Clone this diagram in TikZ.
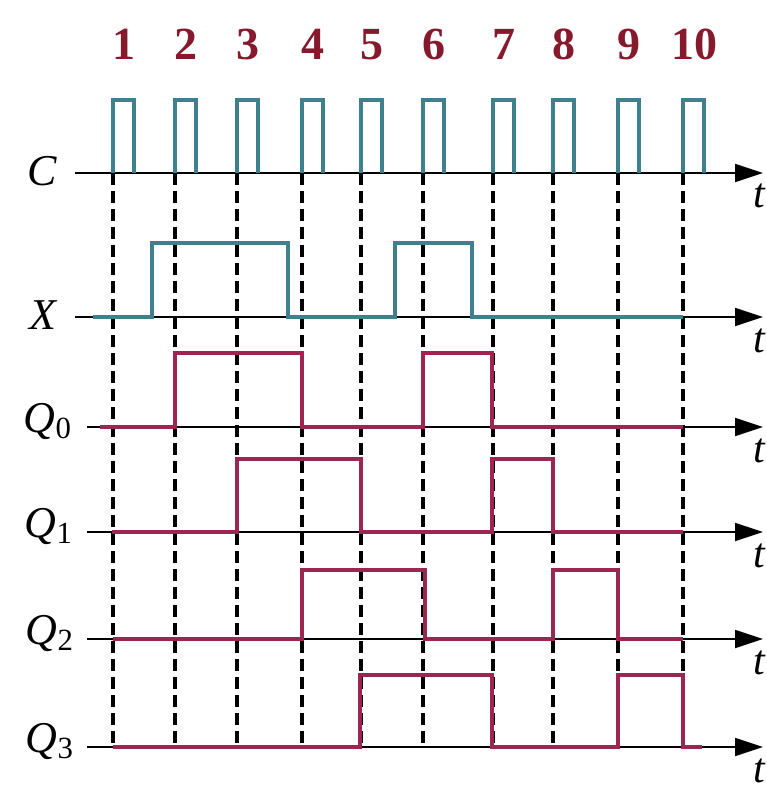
\documentclass[tikz,border=0pt]{standalone}
\usepackage{fontspec}
\setmainfont{Liberation Serif}
\usetikzlibrary{arrows.meta}
\definecolor{tdteal}{HTML}{3F808E}
\definecolor{tdwine}{HTML}{9C2552}
\definecolor{tdnum}{HTML}{861A2C}
\tikzset{
  axis/.style={line width=0.9pt,-{Triangle[length=14pt,width=9pt]}},
  clk/.style={draw=tdteal,line width=2.3pt},
  sigx/.style={draw=tdteal,line width=2.4pt},
  sigq/.style={draw=tdwine,line width=2.4pt},
  grid/.style={line width=1.6pt,dash pattern=on 6pt off 3pt},
  num/.style={font=\fontsize{23}{23}\selectfont\bfseries,text=tdnum,anchor=base,inner sep=0pt},
  lab/.style={font=\fontsize{22}{22}\selectfont\itshape,anchor=base,inner sep=0pt},
  tlab/.style={font=\fontsize{21}{21}\selectfont\itshape,anchor=base,inner sep=0pt},
}

\begin{document}
\begin{tikzpicture}[x=0.5pt,y=-0.5pt]
  \useasboundingbox[fill=white] (0,0) rectangle (766,796);
  % dashed clock edges
  \foreach \x in {113,175,237,302,361,423,493,553,618,683}
    \draw[grid] (\x,173) -- (\x,747);
  % axes
  \foreach \y/\l in {173/0,317/0,427/12,532/12,639/12,747/12} {
    \draw[axis] (75+\l,\y) -- (763,\y);
    \node[tlab] at (759,\y+35) {t};
  }
  % clock pulses and numbers
  \foreach \x [count=\i] in {113,175,237,302,361,423,493,553,618,683} {
    \draw[clk] (\x,173) -- (\x,100) -- (\x+21,100) -- (\x+21,173);
    \node[num] at (\x+11,60) {\i};
  }
  % signal names
  \node[lab] (lC) at (42,186) {C};
  \node[lab] (lX) at (43,329) {X};
  \node[lab] (lQ0) at (48,432) {Q\textsubscript{\upshape 0}};
  \node[lab] (lQ1) at (49,537) {Q\textsubscript{\upshape 1}};
  \node[lab] (lQ2) at (50,644) {Q\textsubscript{\upshape 2}};
  \node[lab] (lQ3) at (50,752) {Q\textsubscript{\upshape 3}};
  % input X
  \draw[sigx] (93,317) -| (152,243) -| (288,317) -| (395,243) -| (472,317) -- (683,317);
  % outputs
  \draw[sigq] (100,427) -| (175,353) -| (302,427) -| (423,353) -| (492,427) -- (683,427);
  \draw[sigq] (112,532) -| (237,459) -| (361,532) -| (492,459) -| (553,532) -- (683,532);
  \draw[sigq] (113,639) -| (302,570) -| (425,639) -| (553,570) -| (618,639) -- (683,639);
  \draw[sigq] (113,747) -| (360,675) -| (492,747) -| (618,675) -| (683,747) -- (702,747);
\end{tikzpicture}
\end{document}
